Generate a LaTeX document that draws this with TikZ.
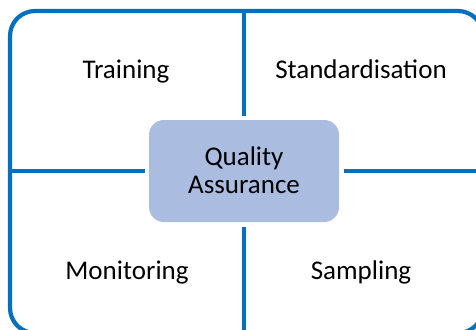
\documentclass[tikz,border=0pt]{standalone}
\usepackage{fontspec}
\setmainfont{Carlito}
\definecolor{lineblue}{RGB}{0,112,192}
\definecolor{boxfill}{RGB}{170,189,225}
\begin{document}
\begin{tikzpicture}[x=1pt,y=-1pt,
  frame/.style={draw=lineblue,line width=4.2pt,rounded corners=25pt,inner sep=0pt,
    minimum width=473pt,minimum height=322pt},
  qabox/.style={fill=boxfill,rounded corners=15pt,inner sep=0pt,
    minimum width=190pt,minimum height=102pt},
  divider/.style={draw=lineblue,line width=4.2pt},
  label/.style={anchor=base,inner sep=0pt,font=\fontsize{27}{30}\selectfont}]
\useasboundingbox (0,0) rectangle (476,329);
\begin{scope}
\clip (0,0) rectangle (476,329);
\node[frame] (frame) at (246.5,172) {};
\node[qabox] (qa) at (244,171) {};
\draw[divider,shorten <=4pt] (qa.west) -- (qa.west -| frame.west);
\draw[divider,shorten <=5pt] (qa.east) -- (qa.east -| frame.east);
\draw[divider,shorten <=4pt] (qa.north) -- (qa.north |- frame.north);
\draw[divider,shorten <=5pt] (qa.south) -- (qa.south |- frame.south);
\end{scope}
\node[label] (q1) at (244,165) {Quality};
\node[label] (q2) at (244,193) {Assurance};
\node[label] (tr) at (126,78) {Training};
\node[label] (st) at (361,78) {Standardisation};
\node[label] (mo) at (127,279) {Monitoring};
\node[label] (sa) at (361,279) {Sampling};
\end{tikzpicture}
\end{document}
